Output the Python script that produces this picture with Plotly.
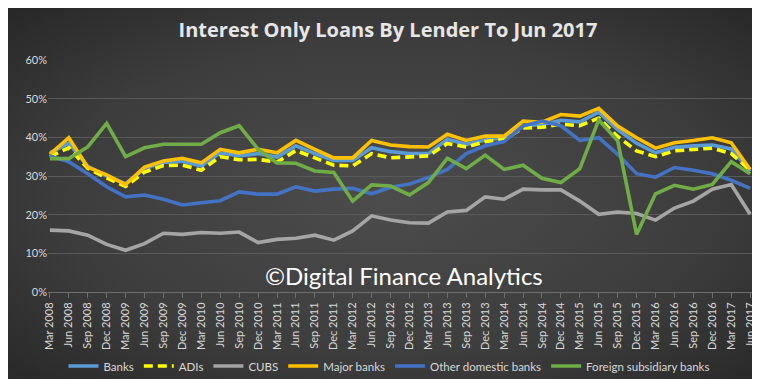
import base64
import plotly.graph_objects as go

quarters = [
    "Mar 2008", "Jun 2008", "Sep 2008", "Dec 2008",
    "Mar 2009", "Jun 2009", "Sep 2009", "Dec 2009",
    "Mar 2010", "Jun 2010", "Sep 2010", "Dec 2010",
    "Mar 2011", "Jun 2011", "Sep 2011", "Dec 2011",
    "Mar 2012", "Jun 2012", "Sep 2012", "Dec 2012",
    "Mar 2013", "Jun 2013", "Sep 2013", "Dec 2013",
    "Mar 2014", "Jun 2014", "Sep 2014", "Dec 2014",
    "Mar 2015", "Jun 2015", "Sep 2015", "Dec 2015",
    "Mar 2016", "Jun 2016", "Sep 2016", "Dec 2016",
    "Mar 2017", "Jun 2017",
]

banks = [36.0, 38.5, 32.5, 30.0, 28.0, 32.0, 33.5, 33.8, 32.6, 36.0,
         35.2, 35.8, 34.9, 37.8, 35.8, 34.0, 34.0, 37.3, 36.3, 35.8,
         35.8, 39.5, 38.2, 39.3, 39.8, 43.0, 43.3, 44.4, 44.0, 46.5,
         42.0, 38.5, 36.0, 37.4, 37.8, 38.0, 37.0, 31.2]

adis = [35.0, 37.3, 32.0, 29.5, 27.3, 31.0, 32.7, 32.8, 31.5, 35.0,
        34.2, 34.3, 33.6, 36.6, 34.7, 32.8, 32.6, 35.8, 34.7, 35.0,
        35.2, 38.4, 37.5, 38.9, 39.5, 42.4, 42.6, 43.4, 43.0, 45.0,
        40.2, 36.5, 35.0, 36.5, 36.9, 37.2, 35.8, 31.5]

cubs = [16.0, 15.8, 14.7, 12.3, 10.8, 12.5, 15.2, 14.9, 15.4, 15.2,
        15.5, 12.8, 13.6, 13.9, 14.7, 13.4, 15.8, 19.7, 18.6, 17.9,
        17.8, 20.7, 21.1, 24.6, 24.0, 26.6, 26.4, 26.4, 23.5, 20.1,
        20.7, 20.3, 18.6, 21.7, 23.5, 26.6, 27.8, 20.1]

major_banks = [35.6, 39.9, 32.3, 30.3, 27.8, 32.3, 33.9, 34.6, 33.4, 36.9,
               36.0, 36.9, 36.0, 39.2, 36.9, 34.7, 34.7, 39.2, 38.0, 37.6,
               37.5, 40.8, 39.2, 40.3, 40.3, 44.2, 43.9, 45.9, 45.5, 47.5,
               42.9, 39.9, 37.2, 38.6, 39.2, 39.9, 38.6, 31.7]

other_domestic = [35.2, 33.7, 30.6, 27.2, 24.6, 25.1, 24.0, 22.5, 23.1, 23.6,
                  25.9, 25.3, 25.3, 27.2, 26.1, 26.6, 26.8, 25.4, 27.1, 27.9,
                  29.6, 31.7, 35.8, 37.8, 38.9, 42.9, 44.2, 43.0, 39.2, 39.9,
                  35.6, 30.6, 29.7, 32.2, 31.5, 30.6, 28.9, 26.8]

foreign_subsidiary = [34.5, 34.5, 37.5, 43.6, 35.0, 37.3, 38.2, 38.2, 38.2, 41.2,
                      43.0, 36.9, 33.4, 33.3, 31.3, 30.9, 23.5, 27.7, 27.4, 25.1,
                      28.3, 34.6, 31.9, 35.4, 31.7, 32.8, 29.4, 28.3, 31.9, 44.5,
                      39.1, 14.9, 25.4, 27.6, 26.6, 27.8, 33.7, 30.6]

y_ticks = [0, 10, 20, 30, 40, 50, 60]
y_tick_labels = ["0%", "10%", "20%", "30%", "40%", "50%", "60%"]

series = [
    ("Banks", banks, "#5B9BD5", "solid"),
    ("ADIs", adis, "#FFFF00", "9px,5px"),
    ("CUBS", cubs, "#A5A5A5", "solid"),
    ("Major banks", major_banks, "#FFC000", "solid"),
    ("Other domestic banks", other_domestic, "#4472C4", "solid"),
    ("Foreign subsidiary banks", foreign_subsidiary, "#70AD47", "solid"),
]

FONT = "Lato, Open Sans, sans-serif"
TXT = "#D9D9D9"

fig = go.Figure()
xs = list(range(len(quarters)))
for name, vals, color, dash in series:
    fig.add_trace(go.Scatter(
        x=xs, y=vals, name=name, mode="lines",
        line=dict(color=color, width=3.6, dash=dash),
        hoverinfo="skip",
    ))

# radial gradient background
svg = (
    '<svg xmlns="http://www.w3.org/2000/svg" width="760" height="379">'
    '<defs><radialGradient id="g" cx="50%" cy="50%" r="70%">'
    '<stop offset="0%" stop-color="#4c4c4c"/>'
    '<stop offset="60%" stop-color="#3d3d3d"/>'
    '<stop offset="100%" stop-color="#282828"/>'
    '</radialGradient></defs>'
    '<rect width="760" height="379" fill="url(#g)"/></svg>'
)
src = "data:image/svg+xml;base64," + base64.b64encode(svg.encode()).decode()

L, R, T, B = 40, 15, 52, 95
W, H = 760, 379
pw, ph = W - L - R, H - T - B

fig.update_layout(
    width=W, height=H,
    margin=dict(l=L, r=R, t=T, b=B, autoexpand=False),
    paper_bgcolor="#3a3a3a",
    plot_bgcolor="rgba(0,0,0,0)",
    font=dict(family=FONT, color=TXT, size=11),
    title=dict(
        text="<b>Interest Only Loans By Lender To Jun 2017</b>",
        x=0.5, xanchor="center", y=1 - 22 / H, yanchor="middle",
        font=dict(family="Open Sans, sans-serif", size=20, color="#E6E6E6"),
    ),
    showlegend=True,
    legend=dict(
        orientation="h", x=(381 - L) / pw, xanchor="center",
        y=(H - B - 358) / ph, yanchor="middle",
        font=dict(family=FONT, size=11.5, color=TXT),
        bgcolor="rgba(0,0,0,0)",
        itemwidth=30,
    ),
    images=[dict(
        source=src, xref="paper", yref="paper",
        x=-L / pw, y=(ph + T) / ph, sizex=W / pw, sizey=H / ph,
        xanchor="left", yanchor="top", sizing="stretch", layer="below",
    )],
    annotations=[dict(
        text="©Digital Finance Analytics", xref="paper", yref="paper",
        x=(396 - L) / pw, y=(H - B - 267) / ph, xanchor="center", yanchor="middle",
        showarrow=False, font=dict(family=FONT, size=24, color="#FFFFFF"),
    )],
)

fig.update_xaxes(
    range=[-0.1, 37.15],
    tickmode="array", tickvals=xs, ticktext=quarters,
    tickangle=-90, tickfont=dict(size=11, color=TXT, family=FONT),
    showgrid=False, zeroline=False,
    showline=True, linecolor="#6E6E6E", linewidth=1,
    ticks="outside", ticklen=5, tickcolor="#6E6E6E",
)
fig.update_yaxes(
    range=[0, 60],
    tickmode="array", tickvals=y_ticks, ticktext=y_tick_labels,
    tickfont=dict(size=11, color=TXT, family=FONT),
    showgrid=True, gridcolor="#5A5A5A", gridwidth=1,
    zeroline=False, showline=False,
)

fig.write_html("out.html")
